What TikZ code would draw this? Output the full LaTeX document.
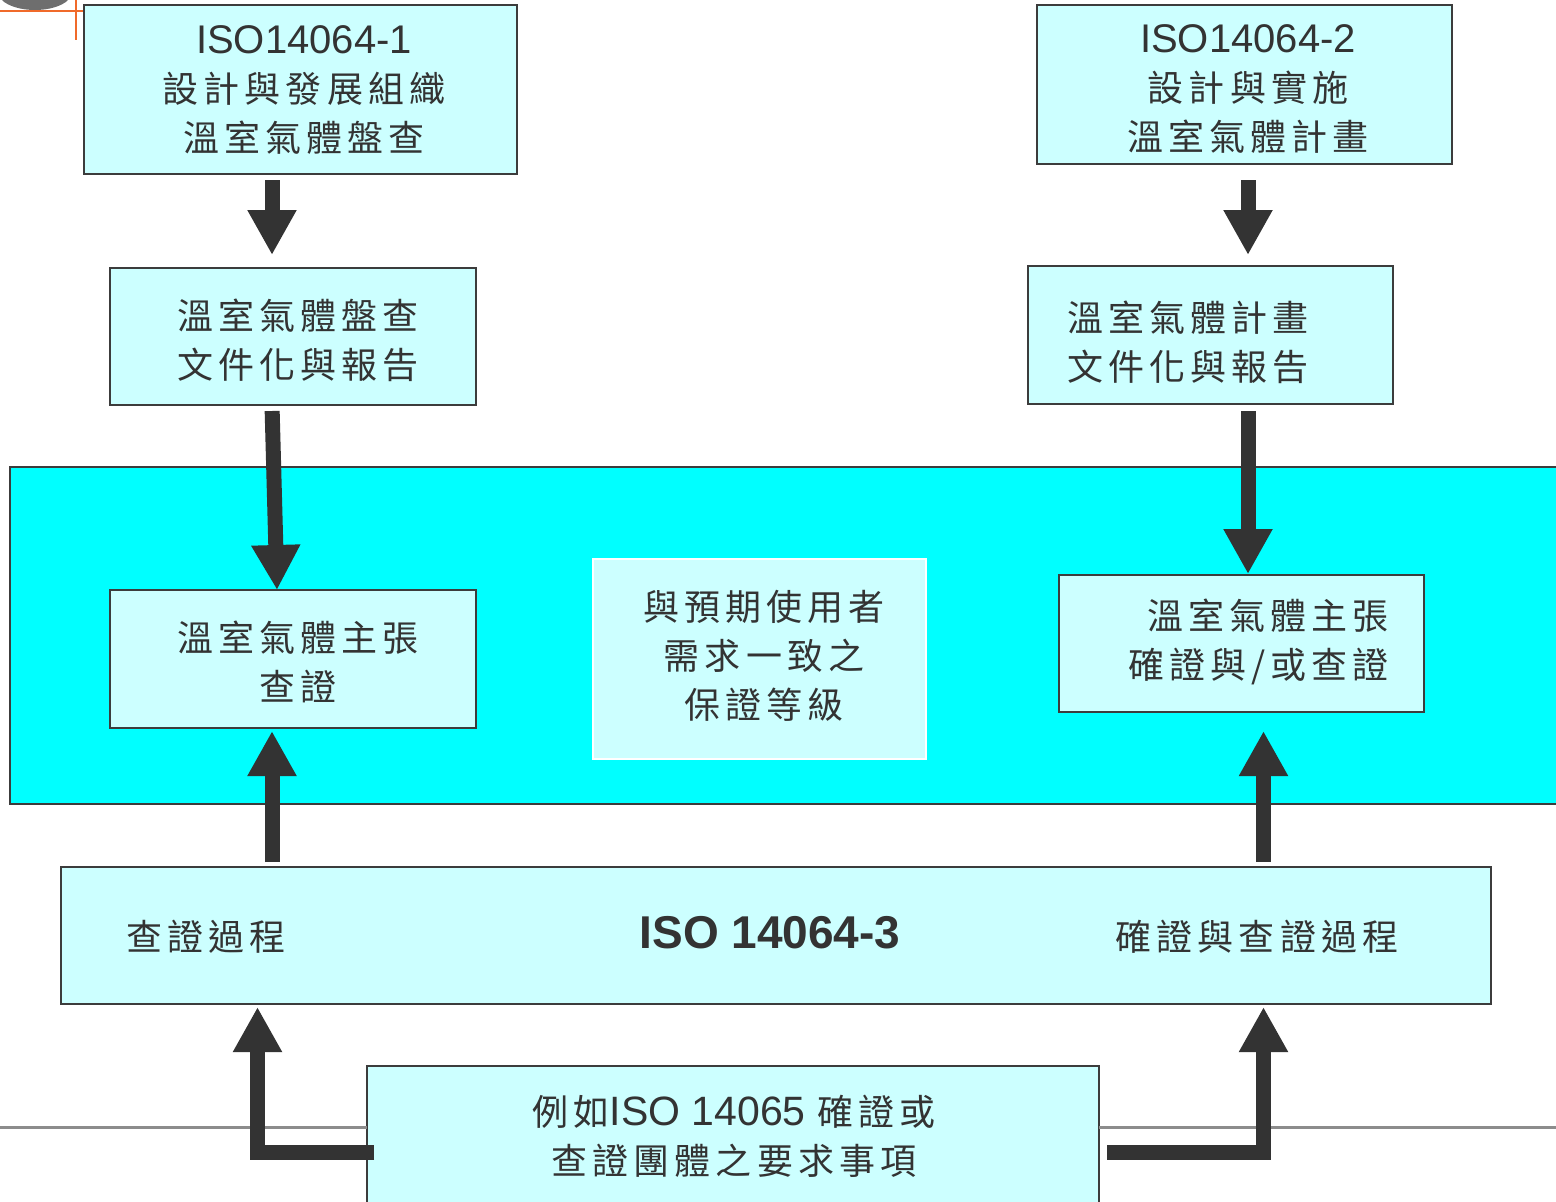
\documentclass[tikz,border=0pt]{standalone}
\usepackage{fontspec}
\setmainfont{Liberation Sans}
\newfontfamily\cjk[LetterSpace=14]{Noto Sans CJK TC}
\newfontfamily\latn{Liberation Sans}
\usetikzlibrary{arrows.meta}
\definecolor{lightc}{HTML}{CCFFFF}
\definecolor{cyanband}{HTML}{00FFFF}
\definecolor{edgec}{HTML}{3C3C3C}
\definecolor{arrowc}{HTML}{333333}
\definecolor{txtc}{HTML}{333333}
\definecolor{rulec}{HTML}{8C8C8C}
\definecolor{orangec}{HTML}{F06A2A}
\definecolor{blobc}{HTML}{6E6E6E}
\begin{document}
\begin{tikzpicture}[x=1pt,y=-1pt,
  box/.style={draw=edgec,line width=2pt,fill=lightc,inner sep=0pt,outer sep=0pt,anchor=north west},
  lbl/.style={align=center,text=txtc,inner sep=0pt,font=\cjk\fontsize{36}{49}\selectfont},
  bigarrow/.style={draw=arrowc,line width=15pt,line join=miter,-{Triangle[width=46pt,length=45pt]}}]
\useasboundingbox (0,0) rectangle (1556,1202);
\clip (0,0) rectangle (1556,1202);
% slide artifacts
\fill[blobc] (35,-8) ellipse [x radius=37, y radius=18];
\draw[orangec,line width=1.5pt] (0,11) -- (84,11);
\draw[orangec,line width=1.5pt] (76,0) -- (76,40);
% cyan band
\node[box,fill=cyanband,minimum width=1600pt,minimum height=337pt] (band) at (10,467) {};
% boxes
\node[box,minimum width=433pt,minimum height=169pt] (A) at (84,5) {};
\node[box,minimum width=415pt,minimum height=159pt] (B) at (1037,5) {};
\node[box,minimum width=366pt,minimum height=137pt] (C) at (110,268) {};
\node[box,minimum width=365pt,minimum height=138pt] (D) at (1028,266) {};
\node[box,minimum width=366pt,minimum height=138pt] (E) at (110,590) {};
\node[box,draw=white,minimum width=333pt,minimum height=200pt] (F) at (593,559) {};
\node[box,minimum width=365pt,minimum height=137pt] (G) at (1059,575) {};
\node[box,minimum width=1430pt,minimum height=137pt] (H) at (61,867) {};
\node[box,minimum width=732pt,minimum height=170pt] (I) at (367,1066) {};
% texts
\node[lbl] (tA) at (304,90.5) {{\latn\fontsize{40}{49}\selectfont ISO14064-1}\\設計與發展組織\\溫室氣體盤查};
\node[lbl] (tB) at (1248,89.5) {{\latn\fontsize{40}{49}\selectfont ISO14064-2}\\設計與實施\\溫室氣體計畫};
\node[lbl] (tC) at (298,340) {溫室氣體盤查\\文件化與報告};
\node[lbl] (tD) at (1188,342) {溫室氣體計畫\\文件化與報告};
\node[lbl] (tE) at (298,661.5) {溫室氣體主張\\查證};
\node[lbl] (tF) at (764,656) {與預期使用者\\需求一致之\\保證等級};
\node[lbl,align=right,anchor=east] (tG) at (1389,641.5) {溫室氣體主張\\確證與/或查證};
\node[lbl] (tH1) at (206,937) {查證過程};
\node[lbl,font=\latn\bfseries\fontsize{46}{49}\selectfont] (tH2) at (770,933) {ISO 14064-3};
\node[lbl] (tH3) at (1257,937) {確證與查證過程};
\node[lbl] (tI) at (734,1136) {例如{\latn\fontsize{41}{48}\selectfont ISO 14065 }確證或\\查證團體之要求事項};
% helper coordinates
\coordinate (colL) at (272,0);
\coordinate (colL2) at (277,0);
\coordinate (colL3) at (257.5,0);
\coordinate (colR) at (1248,0);
\coordinate (colR2) at (1263.5,0);
\coordinate (rowB) at (0,1152);
\coordinate (ruleL) at (0,1127);
\coordinate (ruleR) at (1556,1127);
% grey rule
\draw[rulec,line width=3pt] (ruleL) -- (ruleL -| I.west);
\draw[rulec,line width=3pt] (ruleR -| I.east) -- (ruleR);
% arrows
\draw[bigarrow,shorten <=6pt,shorten >=13pt] (A.south -| colL) -- (C.north -| colL);
\draw[bigarrow,shorten <=16pt,shorten >=11pt] (B.south -| colR) -- (D.north -| colR);
\draw[bigarrow,shorten <=6pt] (C.south -| colL) -- (E.north -| colL2);
\draw[bigarrow,shorten <=7pt,shorten >=1pt] (D.south -| colR) -- (G.north -| colR);
\draw[bigarrow,shorten <=5pt,shorten >=3pt] (H.north -| colL) -- (E.south -| colL);
\draw[bigarrow,shorten <=5pt,shorten >=19pt] (H.north -| colR2) -- (G.south -| colR2);
\draw[bigarrow,shorten >=3pt] ([xshift=7pt]I.west |- rowB) -- (colL3 |- rowB) -- (H.south -| colL3);
\draw[bigarrow,shorten >=3pt] ([xshift=8pt]I.east |- rowB) -- (colR2 |- rowB) -- (H.south -| colR2);
\end{tikzpicture}
\end{document}
